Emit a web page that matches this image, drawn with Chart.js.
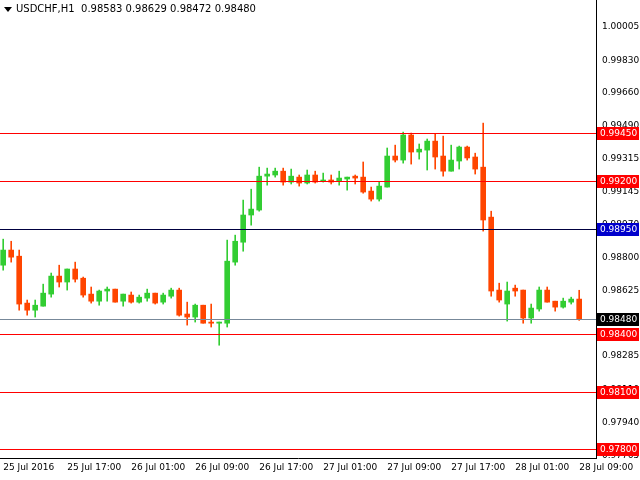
<!DOCTYPE html>
<html><head><meta charset="utf-8">
<script src="https://cdn.jsdelivr.net/npm/chart.js@4"></script>
<style>html,body{margin:0;padding:0;background:#fff}#w{width:640px;height:480px}</style>
</head><body><div id="w"><canvas id="c"></canvas></div>
<script>
const timeLabels = ["25 Jul 2016","25 Jul 17:00","26 Jul 01:00","26 Jul 09:00","26 Jul 17:00","27 Jul 01:00","27 Jul 09:00","27 Jul 17:00","28 Jul 01:00","28 Jul 09:00"];
const opens  = [.98760,.98839,.98807,.98562,.98525,.98546,.98609,.98703,.98672,.98740,.98692,.98609,.98572,.98625,.98635,.98572,.98604,.98567,.98588,.98614,.98567,.98598,.98630,.98505,.98489,.98551,.98463,.98457,.98457,.98776,.98880,.99022,.99048,.99225,.99231,.99251,.99194,.99220,.99189,.99231,.99199,.99205,.99199,.99210,.99225,.99220,.99147,.99105,.99168,.99330,.99309,.99440,.99351,.99361,.99408,.99330,.99251,.99304,.99377,.99325,.99272,.99011,.98630,.98557,.98640,.98630,.98484,.98531,.98630,.98572,.98541,.98567,.98583];
const closes = [.98839,.98802,.98557,.98525,.98551,.98614,.98703,.98672,.98740,.98687,.98604,.98572,.98625,.98635,.98567,.98609,.98567,.98593,.98614,.98562,.98604,.98630,.98499,.98489,.98551,.98457,.98457,.98463,.98781,.98885,.99022,.99053,.99225,.99236,.99251,.99194,.99225,.99189,.99231,.99194,.99205,.99194,.99215,.99220,.99215,.99142,.99105,.99173,.99330,.99309,.99440,.99351,.99366,.99408,.99325,.99251,.99309,.99377,.99320,.99262,.98996,.98625,.98578,.98625,.98625,.98484,.98536,.98630,.98567,.98541,.98572,.98583,.98480];
const highs  = [.98896,.98885,.98839,.98578,.98578,.98661,.98719,.98760,.98740,.98776,.98698,.98646,.98630,.98646,.98635,.98609,.98620,.98604,.98635,.98614,.98614,.98640,.98640,.98567,.98557,.98551,.98557,.98463,.98891,.98917,.99100,.99157,.99272,.99267,.99267,.99267,.99262,.99231,.99257,.99251,.99241,.99231,.99251,.99220,.99231,.99299,.99168,.99194,.99372,.99387,.99455,.99450,.99393,.99419,.99445,.99434,.99387,.99382,.99382,.99345,.99502,.99042,.98666,.98672,.98656,.98630,.98557,.98646,.98646,.98572,.98588,.98593,.98629];
const lows   = [.98734,.98776,.98525,.98499,.98489,.98546,.98593,.98646,.98630,.98672,.98593,.98562,.98551,.98572,.98567,.98546,.98562,.98562,.98572,.98557,.98557,.98588,.98494,.98447,.98463,.98457,.98437,.98342,.98437,.98760,.98833,.98969,.99042,.99178,.99220,.99178,.99184,.99173,.99184,.99189,.99194,.99184,.99178,.99152,.99184,.99136,.99095,.99095,.99168,.99299,.99293,.99288,.99314,.99257,.99262,.99225,.99251,.99262,.99309,.99236,.98938,.98598,.98567,.98468,.98598,.98457,.98457,.98520,.98567,.98520,.98536,.98557,.98472];
const yTicks = [1.00005,0.99830,0.99660,0.99490,0.99315,0.99145,0.98970,0.98800,0.98625,0.98455,0.98285,0.98110,0.97940,0.97765];
const levelValues = [0.99450,0.99200,0.98950,0.98400,0.98100,0.97800,0.98480];
const levelKinds  = ["r","r","b","r","r","r","k"];
const titleText = "USDCHF,H1  0.98583 0.98629 0.98472 0.98480";

const GREEN="#32CD32", RED="#FF4500";
const idx = opens.map((_, i) => i);
const colors = idx.map(i => closes[i] >= opens[i] ? GREEN : RED);
const wickData = idx.map(i => ({x:i, y:[lows[i], highs[i]]}));
const bodyData = idx.map(i => ({x:i, y:[Math.min(opens[i],closes[i]), Math.max(opens[i],closes[i])]}));
const FONT = "'DejaVu Sans'";

const overlay = {
  id:'overlay',
  afterDatasetsDraw(ch){
    const c=ch.ctx, y=ch.scales.y, a=ch.chartArea;
    c.save();
    levelValues.forEach((v,i)=>{
      const k=levelKinds[i];
      const py=Math.round(y.getPixelForValue(v))+0.5;
      c.strokeStyle = k==="r" ? "#FF0000" : k==="b" ? "#000040" : "#778899";
      c.lineWidth=1;
      c.beginPath(); c.moveTo(a.left,py); c.lineTo(a.right,py); c.stroke();
    });
    c.restore();
  },
  afterDraw(ch){
    const c=ch.ctx, y=ch.scales.y, a=ch.chartArea;
    c.save();
    c.font="9px "+FONT;
    c.textBaseline="middle";
    levelValues.forEach((v,i)=>{
      const k=levelKinds[i];
      const py=Math.round(y.getPixelForValue(v));
      c.fillStyle = k==="r" ? "#FF0000" : k==="b" ? "#0000CC" : "#000000";
      c.fillRect(a.right+1, py-6, 42, 13);
      c.fillStyle="#FFFFFF";
      c.textAlign="left";
      c.fillText(v.toFixed(5), a.right+4, py+0.5);
    });
    c.fillStyle="#000"; c.font="10px "+FONT; c.textAlign="left";
    c.beginPath(); c.moveTo(4,7); c.lineTo(12,7); c.lineTo(8,12); c.closePath(); c.fill();
    c.fillText(titleText, 16, 9);
    c.restore();
  }
};

new Chart(document.getElementById('c'), {
  type:'bar',
  data:{ datasets:[
    {data:wickData, backgroundColor:colors, barThickness:1, grouped:false, order:2},
    {data:bodyData, backgroundColor:colors, barThickness:5, grouped:false, minBarLength:1, order:1}
  ]},
  options:{
    responsive:true, maintainAspectRatio:false, animation:false,
    layout:{padding:0},
    plugins:{legend:{display:false}, tooltip:{enabled:false}},
    scales:{
      x:{ type:'linear', min:-0.4, max:74.1, offset:false,
          grid:{display:false, drawTicks:true, tickLength:3, tickColor:'#000'},
          border:{display:true,color:'#000'},
          afterBuildTicks(s){ s.ticks = timeLabels.map((_,i)=>({value:i*8})); },
          afterFit(s){ s.height=22; s.paddingLeft=0; s.paddingRight=0; },
          ticks:{ autoSkip:false, maxRotation:0, align:'start', padding:1,
                  color:'#000', font:{family:'DejaVu Sans', size:9},
                  callback:(v)=> timeLabels[Math.round(v/8)] }
      },
      y:{ position:'right', min:0.97753, max:1.00145,
          grid:{display:false, drawTicks:true, tickLength:4, tickColor:'#000'},
          border:{display:true,color:'#000'},
          afterBuildTicks(s){ s.ticks = yTicks.map(v=>({value:v})); },
          afterFit(s){ s.width=44; s.paddingTop=0; s.paddingBottom=0; },
          ticks:{ color:'#000', padding:2, font:{family:'DejaVu Sans', size:9},
                  callback:(v)=> v.toFixed(5) }
      }
    }
  },
  plugins:[overlay]
});
</script></body></html>
